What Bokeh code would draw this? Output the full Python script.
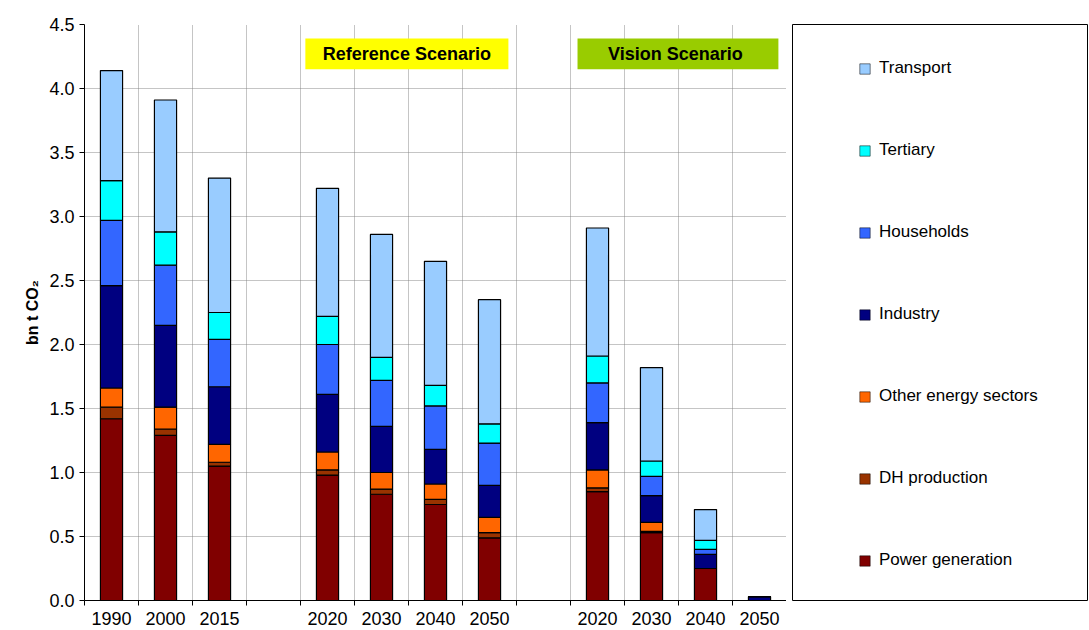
from bokeh.plotting import figure
from bokeh.models import (FixedTicker, Label, BoxAnnotation, Legend, LegendItem,
                          ColumnDataSource, Range1d, CustomJSTickFormatter)
from bokeh.layouts import row
from bokeh.embed import file_html
from bokeh.resources import INLINE

slots = [0.5, 1.5, 2.5, 4.5, 5.5, 6.5, 7.5, 9.5, 10.5, 11.5, 12.5]
years = ["1990", "2000", "2015", "2020", "2030", "2040", "2050", "2020", "2030", "2040", "2050"]
series = ["Power generation", "DH production", "Other energy sectors", "Industry",
          "Households", "Tertiary", "Transport"]
colors = ["#800000", "#993300", "#FF6600", "#000080", "#3366FF", "#00FFFF", "#99CCFF"]
power = [1.42, 1.29, 1.05, 0.98, 0.83, 0.75, 0.49, 0.85, 0.53, 0.25, 0.00]
dh = [0.09, 0.05, 0.03, 0.04, 0.04, 0.04, 0.04, 0.03, 0.01, 0.00, 0.00]
other = [0.15, 0.17, 0.14, 0.14, 0.13, 0.12, 0.12, 0.14, 0.07, 0.00, 0.00]
industry = [0.80, 0.64, 0.45, 0.45, 0.36, 0.27, 0.25, 0.37, 0.21, 0.11, 0.03]
households = [0.51, 0.47, 0.37, 0.39, 0.36, 0.34, 0.33, 0.31, 0.15, 0.04, 0.00]
tertiary = [0.31, 0.26, 0.21, 0.22, 0.18, 0.16, 0.15, 0.21, 0.12, 0.07, 0.00]
transport = [0.86, 1.03, 1.05, 1.00, 0.96, 0.97, 0.97, 1.00, 0.73, 0.24, 0.00]

data = dict(x=slots, power=power, dh=dh, other=other, industry=industry,
            households=households, tertiary=tertiary, transport=transport)
keys = ["power", "dh", "other", "industry", "households", "tertiary", "transport"]
src = ColumnDataSource(data)

FONT = "Liberation Sans"
p = figure(width=786, height=628, output_backend="svg", toolbar_location=None,
           x_range=Range1d(0, 13), y_range=Range1d(0, 4.5),
           min_border_left=84, min_border_top=24, min_border_bottom=28, min_border_right=0)
p.outline_line_color = None
p.vbar_stack(keys, x="x", width=0.41, source=src, color=colors,
             line_color="black", line_width=1.2)

p.xaxis.ticker = FixedTicker(ticks=slots, minor_ticks=list(range(0, 14)))
p.xaxis.major_label_overrides = {s: y for s, y in zip(slots, years)}
p.xaxis.major_tick_out = 0
p.xaxis.major_tick_in = 0
p.xaxis.minor_tick_out = 5
p.xaxis.minor_tick_in = 0
p.xaxis.major_label_standoff = 6
p.xaxis.major_label_text_font = FONT
p.xaxis.major_label_text_font_size = "18px"
p.xaxis.major_label_text_color = "black"
p.xaxis.axis_line_color = "black"
p.yaxis.ticker = FixedTicker(ticks=[i * 0.5 for i in range(10)])
p.yaxis.formatter = CustomJSTickFormatter(code="return tick.toFixed(1);")
p.yaxis.major_label_text_font = FONT
p.yaxis.major_label_text_font_size = "18px"
p.yaxis.major_label_text_color = "black"
p.yaxis.minor_tick_line_color = None
p.yaxis.major_tick_in = 0
p.yaxis.major_tick_out = 5
p.yaxis.axis_label = "bn t CO₂"
p.yaxis.axis_label_text_font = FONT
p.yaxis.axis_label_text_font_style = "bold"
p.yaxis.axis_label_text_font_size = "16px"
p.yaxis.axis_label_text_color = "black"
p.xgrid.ticker = FixedTicker(ticks=list(range(1, 14)))
for g in (p.xgrid, p.ygrid):
    g.grid_line_color = "#808080"
    g.grid_line_dash = "1 1"
    g.grid_line_alpha = 0.9

p.add_layout(BoxAnnotation(left=4.09, right=7.85, bottom=4.15, top=4.39,
                           fill_color="#FFFF00", fill_alpha=1, line_color=None))
p.add_layout(BoxAnnotation(left=9.13, right=12.85, bottom=4.15, top=4.39,
                           fill_color="#99CC00", fill_alpha=1, line_color=None))
p.add_layout(Label(x=5.97, y=4.27, text="Reference Scenario", text_align="center",
                   text_baseline="middle", text_font=FONT, text_font_style="bold",
                   text_font_size="18px", text_color="black"))
p.add_layout(Label(x=10.99, y=4.27, text="Vision  Scenario", text_align="center",
                   text_baseline="middle", text_font=FONT, text_font_style="bold",
                   text_font_size="18px", text_color="black"))

p2 = figure(width=296, height=628, output_backend="svg", toolbar_location=None,
            min_border_left=0, min_border_right=0, min_border_top=24, min_border_bottom=28,
            x_range=Range1d(0, 1), y_range=Range1d(0, 1))
p2.axis.visible = False
p2.grid.visible = False
p2.outline_line_color = "black"
items = []
for name, c in zip(series, colors):
    r = p2.rect(x=[-5], y=[-5], width=1, height=1, fill_color=c, line_color="black", line_width=0.5)
    items.append(LegendItem(label=name, renderers=[r]))
items = items[::-1]
leg = Legend(items=items, location=(66, 30), glyph_width=13, glyph_height=13,
             spacing=62, padding=0, label_standoff=8, border_line_color=None,
             background_fill_alpha=0, label_text_font=FONT, label_text_font_size="17px",
             label_text_color="black")
p2.add_layout(leg)

lay = row(p, p2, spacing=6)
open("out.html", "w").write(file_html(lay, INLINE))
